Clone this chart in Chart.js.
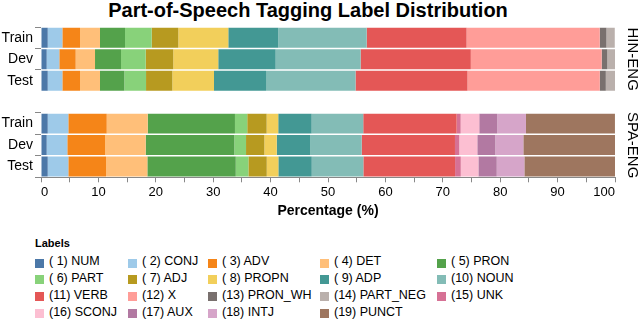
<!DOCTYPE html>
<html>
<head>
<meta charset="utf-8">
<script src="https://cdn.jsdelivr.net/npm/chart.js@4.4.1/dist/chart.umd.min.js"></script>
<style>
  body { margin: 0; background: #fff; font-family: "Liberation Sans", Arial, Helvetica, sans-serif; }
  #wrap { position: relative; width: 640px; height: 321px; overflow: hidden; }
  #title { position: absolute; left: 0; top: -1px; width: 616px; text-align: center; font-weight: bold; font-size: 20px; line-height: 22px; color: #000; }
  #chart { position: absolute; left: 0; top: 0; }
  .ltitle { position: absolute; left: 35px; top: 236.6px; font-weight: bold; font-size: 11px; line-height: 13px; }
  .item { position: absolute; font-size: 12.5px; line-height: 14px; white-space: nowrap; color: #000; }
  .item i { position: absolute; left: 0; top: 4.5px; width: 9px; height: 9px; }
  .item span { position: absolute; left: 14px; top: 0; }
</style>
</head>
<body>
<div id="wrap">
  <div id="title">Part-of-Speech Tagging Label Distribution</div>
  <canvas id="chart" width="640" height="226"></canvas>
  <div class="ltitle">Labels</div>
  <div id="legend"></div>
</div>
<script>
// rows of both panels, blank slot in the middle separates them
const rows = ['Train', 'Dev', 'Test', '', 'Train', 'Dev', 'Test'];
const panels = ['HIN-ENG', 'SPA-ENG'];

const tags = ['( 1) NUM', '( 2) CONJ', '( 3) ADV', '( 4) DET', '( 5) PRON',
    '( 6) PART', '( 7) ADJ', '( 8) PROPN', '( 9) ADP', '(10) NOUN',
    '(11) VERB', '(12) X', '(13) PRON_WH', '(14) PART_NEG', '(15) UNK',
    '(16) SCONJ', '(17) AUX', '(18) INTJ', '(19) PUNCT'];

const colors = ['#4c78a8', '#9ecae9', '#f58518', '#ffbf79', '#54a24b',
    '#88d27a', '#b79a20', '#f2cf5b', '#439894', '#83bcb6',
    '#e45756', '#ff9d98', '#79706e', '#bab0ac', '#d67195',
    '#fcbfd2', '#b279a2', '#d6a5c9', '#9e765f'];

// percentages per label (same order as tags)
const hinTrain = [1.17, 2.55, 3.08, 3.48, 4.36, 4.64, 4.64, 8.71, 8.71, 15.4, 17.4, 23.2, 1.17, 1.45, 0, 0, 0, 0, 0];
const hinDev   = [0.99, 2.2, 2.85, 3.37, 4.53, 4.3, 4.8, 7.84, 10.0, 14.8, 19.2, 22.8, 0.98, 1.34, 0, 0, 0, 0, 0];
const hinTest  = [1.17, 2.55, 3.08, 3.48, 4.24, 3.78, 4.58, 7.26, 9.06, 15.6, 19.5, 23.05, 1.05, 1.6, 0, 0, 0, 0, 0];
const spaTrain = [1.17, 3.59, 6.69, 7.14, 15.2, 2.14, 3.38, 2.02, 5.82, 8.99, 16.27, 0, 0, 0, 0.7, 3.24, 3.14, 5.0, 15.5];
const spaDev   = [0.99, 3.59, 6.57, 7.09, 15.44, 2.04, 3.19, 2.16, 5.8, 9.0, 16.25, 0, 0, 0, 0.75, 3.14, 3.14, 4.88, 15.97];
const spaTest  = [1.17, 3.59, 6.57, 7.2, 15.4, 2.2, 3.2, 2.02, 5.82, 8.99, 15.98, 0, 0, 0, 0.99, 3.07, 3.2, 4.81, 15.8];

const xTicks = [0, 10, 20, 30, 40, 50, 60, 70, 80, 90, 100];

const FONT = '"Liberation Sans", Arial, Helvetica, sans-serif';

const datasets = tags.map((t, i) => ({
    label: t,
    data: [hinTrain[i], hinDev[i], hinTest[i], null, spaTrain[i], spaDev[i], spaTest[i]],
    backgroundColor: colors[i],
    borderWidth: 0,
    barPercentage: 0.93,
    categoryPercentage: 1
}));

// panel names on the right side, rotated
const facetLabels = {
    id: 'facetLabels',
    afterDraw(chart) {
        const { ctx, chartArea } = chart;
        const y = chart.scales.y;
        ctx.save();
        ctx.font = '15px ' + FONT;
        ctx.fillStyle = '#000';
        ctx.textAlign = 'center';
        ctx.textBaseline = 'middle';
        panels.forEach((p, k) => {
            const a = k * 4, b = k * 4 + 2;
            const cy = (y.getPixelForValue(a) + y.getPixelForValue(b)) / 2;
            ctx.save();
            ctx.translate(chartArea.right + 17, cy);
            ctx.rotate(Math.PI / 2);
            ctx.fillText(p, 0, 0);
            ctx.restore();
        });
        ctx.restore();
    }
};

new Chart(document.getElementById('chart'), {
    type: 'bar',
    data: { labels: rows, datasets: datasets },
    plugins: [facetLabels],
    options: {
        indexAxis: 'y',
        responsive: false,
        animation: false,
        layout: { padding: { top: 27, right: 25, left: 0, bottom: 0 } },
        plugins: {
            legend: { display: false },
            tooltip: { enabled: false }
        },
        scales: {
            x: {
                stacked: true,
                min: 0,
                max: 100,
                afterFit: s => { s.height = 48.7; },
                ticks: {
                    stepSize: 5,
                    autoSkip: false,
                    maxRotation: 0,
                    align: 'inner',
                    padding: 2,
                    color: '#000',
                    font: { family: FONT, size: 13 },
                    callback: v => xTicks.includes(v) ? v : ''
                },
                grid: { drawOnChartArea: false, tickLength: 5, color: '#888' },
                border: { display: true, color: '#888' },
                title: {
                    display: true,
                    text: 'Percentage (%)',
                    color: '#000',
                    font: { family: FONT, size: 14, weight: 'bold' },
                    padding: { top: 0, bottom: 6.5 }
                }
            },
            y: {
                stacked: true,
                afterFit: s => { s.width = 41; },
                ticks: { padding: 2, color: '#000', font: { family: FONT, size: 14 } },
                grid: {
                    drawOnChartArea: false,
                    tickLength: 6,
                    color: c => rows[c.index] === '' ? 'rgba(0,0,0,0)' : '#888'
                },
                border: { display: false }
            }
        }
    }
});

// legend grid: 5 columns, row-major
const colX = [35, 128, 208, 320, 437];
const rowY = [254, 270.9, 287.8, 304.7];
const legend = document.getElementById('legend');
tags.forEach((t, i) => {
    const d = document.createElement('div');
    d.className = 'item';
    d.style.left = colX[i % 5] + 'px';
    d.style.top = rowY[Math.floor(i / 5)] + 'px';
    d.innerHTML = '<i style="background:' + colors[i] + '"></i><span>' + t + '</span>';
    legend.appendChild(d);
});
</script>
</body>
</html>
